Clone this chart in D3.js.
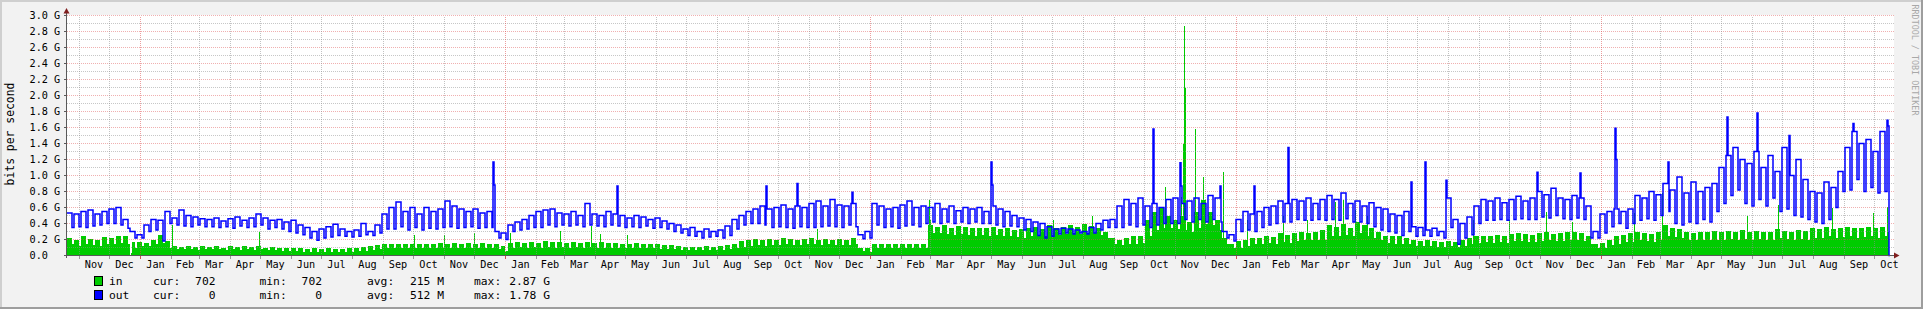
<!DOCTYPE html>
<html><head><meta charset="utf-8">
<script src="https://cdn.jsdelivr.net/npm/d3@7"></script>
<style>html,body{margin:0;padding:0;background:#F2F2F2;overflow:hidden}svg{display:block}</style>
</head><body>
<svg id="chart" width="1923" height="309"></svg>
<script>
// ---------------- DATA (values in Gbit/s) ----------------
// one entry per week: weekday level (Hi) and weekend level (Lo)
const outHi = [
 .53,.52,.55,.57,.52,.55,.58,.60,.45,.30,
 .26,.38,.45,.44,.55,.47,.57,.50,.48,.46,
 .45,.47,.43,.46,.48,.44,.47,.52,.47,.44,
 .45,.42,.44,.38,.35,.30,.33,.36,.39,.33,
 .30,.32,.40,.30,.38,.52,.60,.67,.55,.60,
 .52,.60,.55,.58,.68,.62,.58,.55,.58,.53,
 .55,.30,.28,.38,.42,.45,.50,.55,.57,.58,
 .53,.52,.55,.50,.65,.52,.50,.55,.52,.50,
 .47,.50,.48,.45,.47,.43,.40,.38,.33,.35,
 .30,.33,.30,.32,.37,.45,.50,.55,.58,.62,
 .58,.60,.63,.58,.62,.60,.65,.68,.62,.70,
 .63,.62,.65,.26,.30,.65,.62,.58,.60,.63,
 .68,.60,.62,.60,.65,.58,.62,.56,.60,.58,
 .60,.55,.62,.58,.55,.50,.47,.45,.42,.40,
 .36,.33,.34,.33,.32,.30,.35,.40,.44,.45,
 .62,.70,.65,.72,.62,.65,.60,.70,.72,.65,
 .68,.72,.65,.75,.72,.30,.26,.45,.55,.52,
 .55,.60,.62,.68,.65,.70,.68,.72,.65,.70,
 .75,.70,.78,.65,.68,.62,.66,.60,.58,.52,
 .50,.55,.36,.35,.32,.34,.30,.72,.45,.40,
 .48,.62,.70,.68,.72,.66,.70,.74,.68,.72,
 .80,.76,.84,.72,.70,.75,.72,.62,.30,.52,
 .55,.58,.55,.58,.75,.72,.80,.76,.90,.82,
 .98,.78,.92,.80,.85,.90,1.10,1.25,1.35,1.20,
 1.15,1.30,1.10,1.25,1.05,1.35,1.00,1.20,.95,.80,
 .78,.92,.85,1.05,1.35,1.55,1.40,1.45,1.30,1.55,
 1.62
];
const outLo = [
 .35,.36,.35,.37,.38,.40,.40,.38,.34,.22,
 .22,.30,.32,.18,.40,.38,.37,.36,.38,.36,
 .36,.35,.36,.34,.37,.35,.36,.38,.33,.35,
 .33,.30,.28,.26,.22,.19,.22,.23,.25,.24,
 .23,.24,.26,.25,.28,.33,.33,.36,.32,.35,
 .32,.34,.33,.35,.36,.34,.35,.36,.34,.35,
 .35,.22,.20,.30,.32,.33,.35,.35,.38,.36,
 .38,.37,.38,.36,.38,.37,.36,.38,.37,.35,
 .36,.35,.37,.34,.35,.33,.30,.28,.25,.24,
 .22,.23,.24,.22,.25,.33,.38,.40,.40,.38,
 .35,.36,.35,.34,.36,.35,.35,.36,.37,.36,
 .35,.38,.36,.21,.22,.38,.35,.36,.34,.37,
 .38,.36,.40,.42,.40,.42,.40,.42,.40,.42,
 .40,.40,.38,.36,.37,.36,.32,.30,.25,.22,
 .24,.27,.28,.27,.28,.27,.28,.32,.35,.35,
 .35,.38,.36,.38,.35,.38,.40,.40,.40,.45,
 .42,.45,.42,.45,.42,.22,.18,.30,.32,.30,
 .35,.38,.40,.42,.42,.45,.44,.44,.45,.44,
 .45,.44,.46,.42,.42,.40,.36,.32,.30,.28,
 .25,.30,.24,.25,.24,.25,.22,.35,.14,.22,
 .26,.40,.44,.44,.45,.44,.45,.46,.45,.45,
 .48,.47,.50,.46,.45,.47,.45,.22,.22,.28,
 .36,.40,.34,.40,.44,.46,.44,.50,.55,.40,
 .38,.42,.40,.45,.42,.55,.65,.75,.82,.65,
 .62,.70,.62,.72,.55,.58,.50,.48,.45,.42,
 .40,.45,.60,.80,.82,.95,.80,.85,.78,.80,
 .85
];
const inHi = [
 .22,.20,.24,.21,.19,.23,.22,.25,.24,.17,
 .17,.16,.20,.26,.18,.12,.11,.12,.11,.12,
 .11,.12,.10,.12,.11,.12,.11,.12,.10,.11,
 .10,.09,.10,.09,.08,.09,.08,.09,.08,.08,
 .09,.10,.11,.12,.13,.14,.15,.14,.15,.14,
 .14,.15,.15,.16,.15,.16,.15,.16,.15,.16,
 .15,.14,.12,.16,.17,.16,.17,.16,.18,.17,
 .17,.16,.17,.16,.17,.16,.17,.16,.16,.15,
 .15,.16,.15,.14,.14,.13,.13,.12,.11,.11,
 .11,.12,.11,.12,.13,.15,.18,.20,.21,.20,
 .21,.20,.22,.21,.20,.21,.22,.20,.21,.20,
 .21,.20,.22,.10,.09,.14,.15,.14,.15,.14,
 .15,.14,.15,.38,.36,.38,.35,.37,.36,.35,
 .35,.34,.36,.33,.35,.32,.33,.35,.36,.33,
 .38,.35,.36,.38,.36,.40,.37,.35,.30,.22,
 .20,.22,.24,.25,.45,.55,.60,.50,.45,.50,
 .42,.55,.70,.55,.45,.22,.15,.18,.20,.22,
 .22,.25,.23,.28,.26,.28,.30,.28,.30,.32,
 .38,.36,.40,.35,.42,.38,.34,.30,.25,.24,
 .24,.22,.20,.18,.19,.18,.17,.18,.17,.19,
 .22,.24,.25,.24,.26,.25,.27,.28,.27,.26,
 .28,.30,.27,.28,.29,.30,.28,.24,.14,.16,
 .20,.24,.26,.28,.30,.28,.27,.30,.38,.35,
 .33,.30,.28,.30,.29,.31,.30,.31,.30,.32,
 .30,.31,.29,.30,.33,.31,.30,.32,.31,.34,
 .33,.36,.33,.35,.36,.34,.35,.36,.34,.36,
 .30
];
const inLo = [
 .14,.12,.15,.13,.12,.14,.15,.16,.14,.10,
 .12,.12,.14,.16,.10,.08,.08,.08,.07,.08,
 .08,.08,.07,.08,.07,.08,.07,.08,.07,.07,
 .06,.06,.06,.05,.05,.05,.05,.05,.05,.05,
 .05,.06,.06,.07,.08,.09,.10,.09,.10,.09,
 .10,.10,.09,.10,.10,.10,.09,.10,.10,.10,
 .10,.08,.06,.10,.11,.10,.11,.10,.11,.10,
 .11,.10,.11,.10,.11,.10,.10,.10,.10,.10,
 .10,.10,.09,.09,.08,.08,.08,.07,.07,.07,
 .07,.07,.07,.07,.08,.09,.11,.12,.13,.12,
 .13,.13,.14,.13,.13,.14,.14,.13,.14,.13,
 .13,.13,.14,.06,.05,.09,.10,.09,.10,.09,
 .10,.09,.10,.28,.28,.27,.26,.27,.26,.25,
 .26,.25,.26,.24,.24,.23,.22,.24,.25,.24,
 .26,.26,.27,.28,.27,.28,.28,.26,.22,.15,
 .13,.14,.15,.16,.25,.32,.35,.35,.33,.32,
 .30,.35,.40,.38,.32,.14,.10,.10,.12,.14,
 .14,.16,.15,.17,.16,.18,.20,.19,.19,.20,
 .25,.24,.26,.24,.28,.25,.22,.20,.16,.15,
 .15,.14,.12,.12,.12,.11,.11,.12,.11,.12,
 .14,.16,.17,.16,.17,.16,.18,.18,.17,.17,
 .18,.20,.18,.18,.19,.20,.18,.15,.09,.10,
 .13,.15,.17,.17,.19,.18,.17,.19,.24,.23,
 .22,.20,.19,.20,.19,.20,.20,.21,.20,.21,
 .20,.21,.19,.20,.22,.21,.20,.21,.20,.22,
 .22,.24,.22,.23,.24,.22,.23,.24,.22,.24,
 .20
];
// single-day peaks / dips: [day index, value]
const outSpikes = [
 [426,1.17],[427,.88],[550,.87],[699,.87],[730,.90],[785,.79],[924,1.17],[925,.88],
 [1086,1.58],[1113,1.16],[1114,.87],[1153,.87],[1187,.87],[1221,1.35],[1344,.92],
 [1358,1.17],[1379,.94],[1470,1.04],[1513,1.03],[1548,1.59],[1549,1.20],[1601,1.17],
 [1660,1.73],[1690,1.78],[1722,1.50],[1786,1.65],[1820,1.69]
];
const inSpikes = [
 [63,0],[64,.03],[105,.38],[192,.30],[347,.26],[377,.26],[407,.28],[438,.05],[443,.28],
 [493,.31],[524,.37],[533,.27],[560,.26],[750,.33],[862,.70],[863,.45],[986,.44],
 [1025,.50],[1098,.86],[1114,.73],[1116,1.40],[1117,2.87],[1118,2.09],[1128,1.58],
 [1136,.98],[1156,1.05],[1180,.44],[1216,.49],[1240,.44],[1268,.67],[1276,.69],
 [1288,.57],[1300,.50],[1406,.44],[1442,.44],[1479,.55],[1505,.42],[1567,.53],
 [1595,.78],[1680,.50],[1711,.63],[1765,.60],[1806,.53],[1820,.61]
];
const lastIn = 0.000000702, lastOut = 0;
const yTickValues = [0,0.2,0.4,0.6,0.8,1.0,1.2,1.4,1.6,1.8,2.0,2.2,2.4,2.6,2.8,3.0];
const yTickLabels = ["0.0","0.2 G","0.4 G","0.6 G","0.8 G","1.0 G","1.2 G","1.4 G","1.6 G","1.8 G","2.0 G","2.2 G","2.4 G","2.6 G","2.8 G","3.0 G"];
const legendNames = ["in","out"];
const curVals = ["702","0"];
const minVals = ["702","0"];
const avgVals = ["215 M","512 M"];
const maxVals = ["2.87 G","1.78 G"];
const yTitle = "bits per second";
const watermark = "RRDTOOL / TOBI OETIKER";

// ---------------- CHART ----------------
const W = 1923, H = 309;
const svg = d3.select("#chart");
const mono = "'DejaVu Sans Mono', monospace";
const colors = {in: "#00CC00", out: "#0000FF"};
const startDate = new Date(Date.UTC(2009, 9, 20));
const endDate = new Date(Date.UTC(2014, 9, 21));
const x = d3.scaleUtc().domain([startDate, endDate]).range([67, 1894]);
const y = d3.scaleLinear().domain([0, 3]).range([255.5, 15.5]);
const dayDate = d => d3.utcDay.offset(startDate, d);
const nDays = 1822;

function series(hi, lo, spikes, last) {
  const arr = [];
  for (let d = 0; d < nDays; d++) {
    const k = Math.floor(d / 7);
    arr.push(d % 7 < 5 ? hi[k] : lo[k]);
  }
  spikes.forEach(([d, v]) => { arr[d] = v; });
  arr.push(last);
  arr.push(last);
  return arr.map((v, i) => ({date: dayDate(i), v}));
}
const inData = series(inHi, inLo, inSpikes, lastIn);
const outData = series(outHi, outLo, outSpikes, lastOut);

// background + frame
svg.append("rect").attr("width", W).attr("height", H).attr("fill", "#F2F2F2");
svg.append("rect").attr("x", 0).attr("y", 0).attr("width", W).attr("height", 2).attr("fill", "#CFCFCF");
svg.append("rect").attr("x", 0).attr("y", 0).attr("width", 2).attr("height", H).attr("fill", "#CFCFCF");
svg.append("rect").attr("x", 0).attr("y", H - 2).attr("width", W).attr("height", 2).attr("fill", "#9E9E9E");
svg.append("rect").attr("x", W - 2).attr("y", 0).attr("width", 2).attr("height", H).attr("fill", "#9E9E9E");

// plot canvas
const [x0, x1] = x.range();
svg.append("rect").attr("x", x0).attr("y", y(3) - 0.5).attr("width", x1 - x0).attr("height", y(0) - y(3) + 1).attr("fill", "#FFFFFF");

// area (in)
const area = d3.area().curve(d3.curveStepAfter)
  .x(d => x(d.date)).y0(y(0)).y1(d => y(d.v));
svg.append("path").datum(inData).attr("d", area).attr("fill", colors.in).attr("shape-rendering", "crispEdges");

// grid
const grid = svg.append("g").attr("shape-rendering", "crispEdges");
const minorY = d3.range(1, 31).map(i => i / 10).filter((v, i) => (i + 1) % 2 === 1);
grid.selectAll(".hmin").data(minorY).join("line")
  .attr("x1", x0).attr("x2", x1).attr("y1", d => y(d)).attr("y2", d => y(d))
  .attr("stroke", "rgba(143,143,143,0.5)").attr("stroke-dasharray", "1,1");
grid.selectAll(".hmaj").data(yTickValues.filter(v => v > 0)).join("line")
  .attr("x1", x0).attr("x2", x1).attr("y1", d => y(d)).attr("y2", d => y(d))
  .attr("stroke", "rgba(222,79,79,0.45)").attr("stroke-dasharray", "1,1");
const months = d3.utcMonth.range(d3.utcMonth.ceil(startDate), endDate);
grid.selectAll(".vg").data(months).join("line")
  .attr("x1", d => Math.round(x(d)) + 0.5).attr("x2", d => Math.round(x(d)) + 0.5)
  .attr("y1", y(0)).attr("y2", y(3))
  .attr("stroke", d => d.getUTCMonth() === 0 ? "rgba(222,79,79,0.55)" : "rgba(143,143,143,0.55)")
  .attr("stroke-dasharray", "1,1");

// line (out)
const line = d3.line().curve(d3.curveStepAfter).x(d => x(d.date)).y(d => y(d.v));
svg.append("path").datum(outData).attr("d", line).attr("fill", "none")
  .attr("stroke", colors.out).attr("stroke-width", 1.5);

// axes
const ax = svg.append("g").attr("shape-rendering", "crispEdges");
ax.append("line").attr("x1", 64).attr("x2", 1895).attr("y1", 255.5).attr("y2", 255.5).attr("stroke", "#5A5A5A");
ax.append("line").attr("x1", 66.5).attr("x2", 66.5).attr("y1", 258).attr("y2", 12).attr("stroke", "#5A5A5A");
ax.selectAll(".yt").data(yTickValues).join("line")
  .attr("x1", 64).attr("x2", 66.5).attr("y1", d => y(d)).attr("y2", d => y(d)).attr("stroke", "#5A5A5A");
ax.selectAll(".xt").data(months).join("line")
  .attr("x1", d => Math.round(x(d)) + 0.5).attr("x2", d => Math.round(x(d)) + 0.5)
  .attr("y1", 256).attr("y2", 258.5)
  .attr("stroke", d => d.getUTCMonth() === 0 ? "#D05050" : "#9A9A9A");
// arrows
svg.append("path").attr("d", "M66.5,8 L63.5,13.5 L69.5,13.5 Z").attr("fill", "#801F1F");
svg.append("path").attr("d", "M1899.5,255.5 L1894,252.5 L1894,258.5 Z").attr("fill", "#801F1F");

// y labels
svg.selectAll(".ylab").data(yTickValues).join("text")
  .attr("x", 29.5).attr("y", d => y(d)).attr("dy", "0.35em")
  .attr("font-family", mono).attr("font-size", 10.2).attr("fill", "#000")
  .text((d, i) => yTickLabels[i]);

// month labels (centred on each month)
const fmt = d3.utcFormat("%b");
const labelMonths = d3.utcMonth.range(d3.utcMonth.floor(startDate), endDate)
  .map(m => ({m, cx: (x(m) + x(d3.utcMonth.offset(m, 1))) / 2}))
  .filter(o => o.cx >= x0 && o.cx <= x1 + 2);
svg.selectAll(".xlab").data(labelMonths).join("text")
  .attr("x", d => d.cx).attr("y", 264.5).attr("dy", "0.35em").attr("text-anchor", "middle")
  .attr("font-family", mono).attr("font-size", 10.2).attr("fill", "#000")
  .text(d => fmt(d.m));

// y title
svg.append("text").attr("transform", "translate(10,134) rotate(-90)")
  .attr("text-anchor", "middle").attr("dy", "0.35em")
  .attr("font-family", mono).attr("font-size", 11.4).attr("fill", "#000").text(yTitle);

// watermark
svg.append("text").attr("transform", "translate(1915,60) rotate(90)")
  .attr("text-anchor", "middle").attr("dy", "0.35em")
  .attr("font-family", mono).attr("font-size", 8.4).attr("fill", "#A8A8A8").text(watermark);

// legend
const rowsY = [281.5, 295.5];
const keys = ["in", "out"];
legendNames.forEach((name, i) => {
  const g = svg.append("g").attr("font-family", mono).attr("font-size", 11.3).attr("fill", "#000");
  const cy = rowsY[i];
  g.append("rect").attr("x", 94.5).attr("y", cy - 5).attr("width", 8).attr("height", 9)
    .attr("fill", colors[keys[i]]).attr("stroke", "#000").attr("stroke-width", 1).attr("shape-rendering", "crispEdges");
  const t = (xx, s, anchor) => g.append("text").attr("x", xx).attr("y", cy).attr("dy", "0.35em")
    .attr("text-anchor", anchor).text(s);
  t(109, name, "start");
  t(153, "cur:", "start"); t(215.5, curVals[i], "end");
  t(259.5, "min:", "start"); t(322, minVals[i], "end");
  t(367, "avg:", "start"); t(444, avgVals[i], "end");
  t(474, "max:", "start"); t(550, maxVals[i], "end");
});
</script>
</body></html>
